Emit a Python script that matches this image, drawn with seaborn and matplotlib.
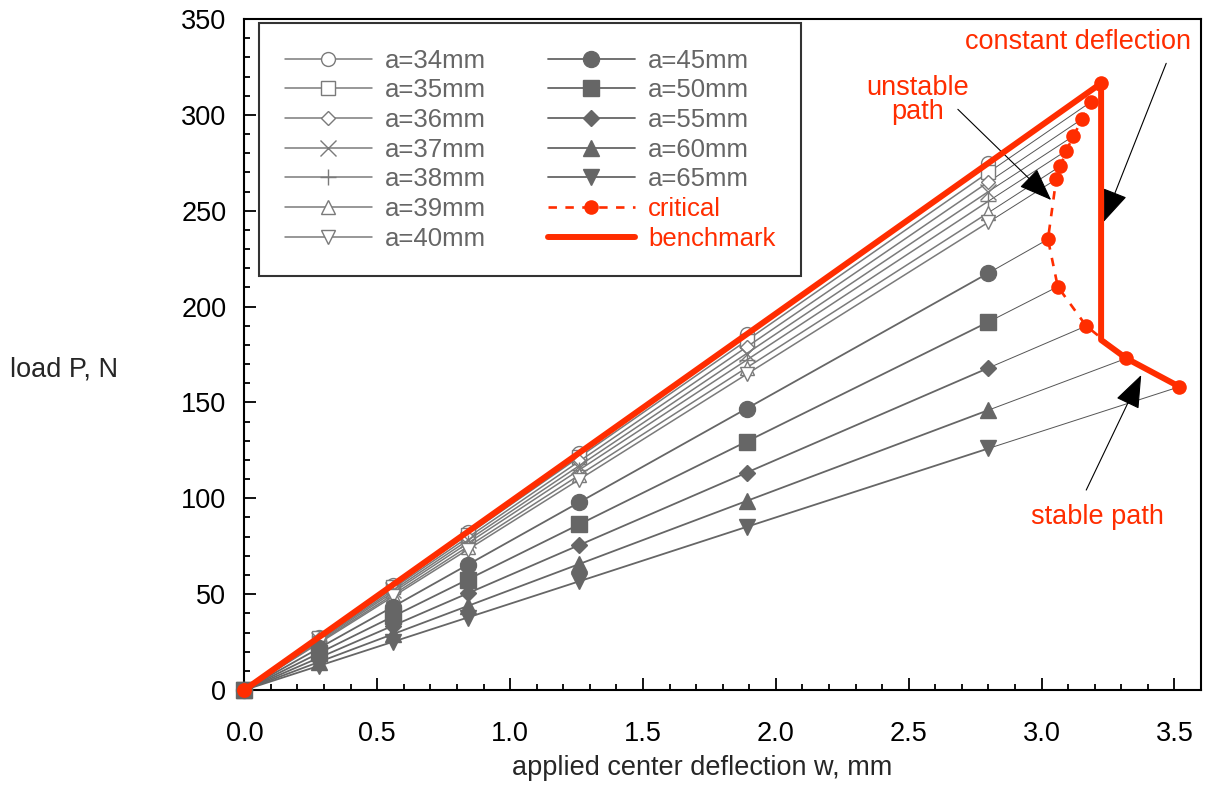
import numpy as np
import pandas as pd
import matplotlib
matplotlib.use("Agg")
import matplotlib.pyplot as plt
from matplotlib.ticker import MultipleLocator, FormatStrFormatter
import seaborn as sns

# ---------------- data ----------------
w_pts = [0.0, 0.28, 0.56, 0.84, 1.26, 1.89, 2.8]
labels = ["a=34mm", "a=35mm", "a=36mm", "a=37mm", "a=38mm", "a=39mm", "a=40mm",
          "a=45mm", "a=50mm", "a=55mm", "a=60mm", "a=65mm"]
load_34 = [0, 27.5, 55.0, 82.5, 123.7, 185.6, 275.0]
load_35 = [0, 27.0, 54.0, 81.0, 121.5, 182.3, 270.0]
load_36 = [0, 26.5, 53.0, 79.5, 119.3, 178.9, 265.0]
load_37 = [0, 26.0, 52.0, 78.0, 117.0, 175.5, 260.0]
load_38 = [0, 25.5, 51.0, 76.5, 114.8, 172.1, 255.0]
load_39 = [0, 24.9, 49.8, 74.7, 112.1, 168.1, 249.0]
load_40 = [0, 24.4, 48.8, 73.2, 109.8, 164.7, 244.0]
load_45 = [0, 21.8, 43.5, 65.3, 97.9, 146.8, 217.5]
load_50 = [0, 19.2, 38.4, 57.6, 86.4, 129.6, 192.0]
load_55 = [0, 16.8, 33.6, 50.4, 75.6, 113.4, 168.0]
load_60 = [0, 14.6, 29.2, 43.8, 65.7, 98.6, 146.0]
load_65 = [0, 12.6, 25.2, 37.8, 56.7, 85.1, 126.0]
loads = [load_34, load_35, load_36, load_37, load_38, load_39, load_40,
         load_45, load_50, load_55, load_60, load_65]

crit_w = [3.224, 3.187, 3.153, 3.120, 3.093, 3.071, 3.055, 3.024, 3.061, 3.168, 3.319, 3.519]
crit_P = [316.5, 306.9, 297.9, 289.0, 281.3, 273.3, 266.4, 235.1, 210.4, 189.9, 173.0, 158.2]

bench_w = [0.0, 3.224, 3.224, 3.319, 3.519]
bench_P = [0.0, 316.5, 182.6, 173.0, 158.2]

# ---------------- style ----------------
sns.set_style("white")
plt.rcParams['font.family'] = ['Liberation Sans', 'DejaVu Sans']
RED = '#FF2D00'
GRAY = '#666666'
LGRAY = '#7a7a7a'

fig = plt.figure(figsize=(12.09, 7.86), dpi=100)
ax = fig.add_axes([0.2021, 0.1221, 0.7913, 0.8537])

open_markers = ['o', 's', 'D', 'x', '+', '^', 'v']
open_ms = [10, 10, 7, 11, 12, 10, 10]
filled_markers = ['o', 's', 'D', '^', 'v']
filled_ms = [11.5, 11.5, 8, 11.5, 11.5]

for i, (lab, vals) in enumerate(zip(labels, loads)):
    # thin extension to critical point
    sns.lineplot(x=[w_pts[-1], crit_w[i]], y=[vals[-1], crit_P[i]], ax=ax,
                 color='#555555', lw=0.7, estimator=None, sort=False,
                 legend=False, zorder=2, clip_on=False)
    if i < 7:
        mk = open_markers[i]
        ms = open_ms[i]
        sns.lineplot(x=w_pts, y=vals, ax=ax, color=LGRAY, lw=1.1,
                     marker=mk, markersize=ms, mfc='white', mec=LGRAY, mew=1.0,
                     label=lab, estimator=None, sort=False, zorder=3, clip_on=False)
    else:
        mk = filled_markers[i - 7]
        ms = filled_ms[i - 7]
        sns.lineplot(x=w_pts, y=vals, ax=ax, color=GRAY, lw=1.3,
                     marker=mk, markersize=ms, mfc=GRAY, mec=GRAY, mew=1.0,
                     label=lab, estimator=None, sort=False, zorder=3, clip_on=False)

sns.lineplot(x=crit_w, y=crit_P, ax=ax, color=RED, lw=1.9,
             marker='o', markersize=10.5, mfc=RED, mec=RED, mew=0,
             label='critical', estimator=None, sort=False, zorder=6, clip_on=False)
ax.lines[-1].set_dashes((3.2, 3.2))

sns.lineplot(x=bench_w, y=bench_P, ax=ax, color=RED, lw=4.3,
             label='benchmark', estimator=None, sort=False, zorder=5, clip_on=False)

sns.scatterplot(x=[0.0], y=[0.0], ax=ax, color=RED, s=115, edgecolor=RED,
                linewidth=0, zorder=7, clip_on=False, legend=False)

# ---------------- axes ----------------
ax.set_xlim(0, 3.6)
ax.set_ylim(0, 350)
ax.xaxis.set_major_locator(MultipleLocator(0.5))
ax.xaxis.set_minor_locator(MultipleLocator(0.1))
ax.xaxis.set_major_formatter(FormatStrFormatter('%.1f'))
ax.yaxis.set_major_locator(MultipleLocator(50))
ax.yaxis.set_minor_locator(MultipleLocator(10))
ax.tick_params(axis='both', which='both', direction='in', bottom=True, left=True,
               top=False, right=False, width=1.3, colors='black')
ax.tick_params(axis='both', which='major', length=8.5, labelsize=19.5)
ax.tick_params(axis='both', which='minor', length=4.3)
ax.tick_params(axis='x', which='major', pad=22)
ax.tick_params(axis='y', which='major', pad=13)
for sp in ax.spines.values():
    sp.set_visible(True)
    sp.set_color('black')
    sp.set_linewidth(1.5)

ax.set_xlabel('applied center deflection w, mm', fontsize=19.5)
ax.xaxis.set_label_coords(0.478, -0.097)
ax.set_ylabel('load P, N', fontsize=19.5, rotation=0, ha='center', va='center')
ax.yaxis.set_label_coords(-0.1885, 0.477)

# ---------------- legend ----------------
handles, labs = ax.get_legend_handles_labels()
leg = ax.legend(handles, labs, ncol=2, loc='upper left',
                bbox_to_anchor=(0.0154, 0.994), borderaxespad=0,
                fontsize=18.5, handlelength=3.4, handletextpad=0.5,
                columnspacing=2.4, labelspacing=0.22, borderpad=1.0,
                frameon=True, fancybox=False, edgecolor='black')
leg.get_frame().set_linewidth(1.5)
leg.set_zorder(10)
for t in leg.get_texts():
    t.set_color(RED if t.get_text() in ('critical', 'benchmark') else GRAY)

# ---------------- annotations ----------------
arrow_kw = dict(arrowstyle='-|>,head_length=2.1,head_width=0.8', color='black',
                lw=0.8, shrinkA=0, shrinkB=0)
ax.annotate('', xy=(3.233, 244.1), xytext=(3.469, 326.9), arrowprops=arrow_kw,
            annotation_clip=False)
ax.annotate('', xy=(3.036, 255.6), xytext=(2.685, 302.9), arrowprops=arrow_kw,
            annotation_clip=False)
ax.annotate('', xy=(3.375, 164.3), xytext=(3.168, 104.3), arrowprops=arrow_kw,
            annotation_clip=False)

ax.text(3.136, 338, 'constant deflection', color=RED, fontsize=19.5,
        ha='center', va='center')
ax.text(2.535, 307.8, 'unstable\npath', color=RED, fontsize=19.5,
        ha='center', va='center', linespacing=0.9)
ax.text(3.210, 90.2, 'stable path', color=RED, fontsize=19.5,
        ha='center', va='center')

fig.savefig('out.png', dpi=100)
